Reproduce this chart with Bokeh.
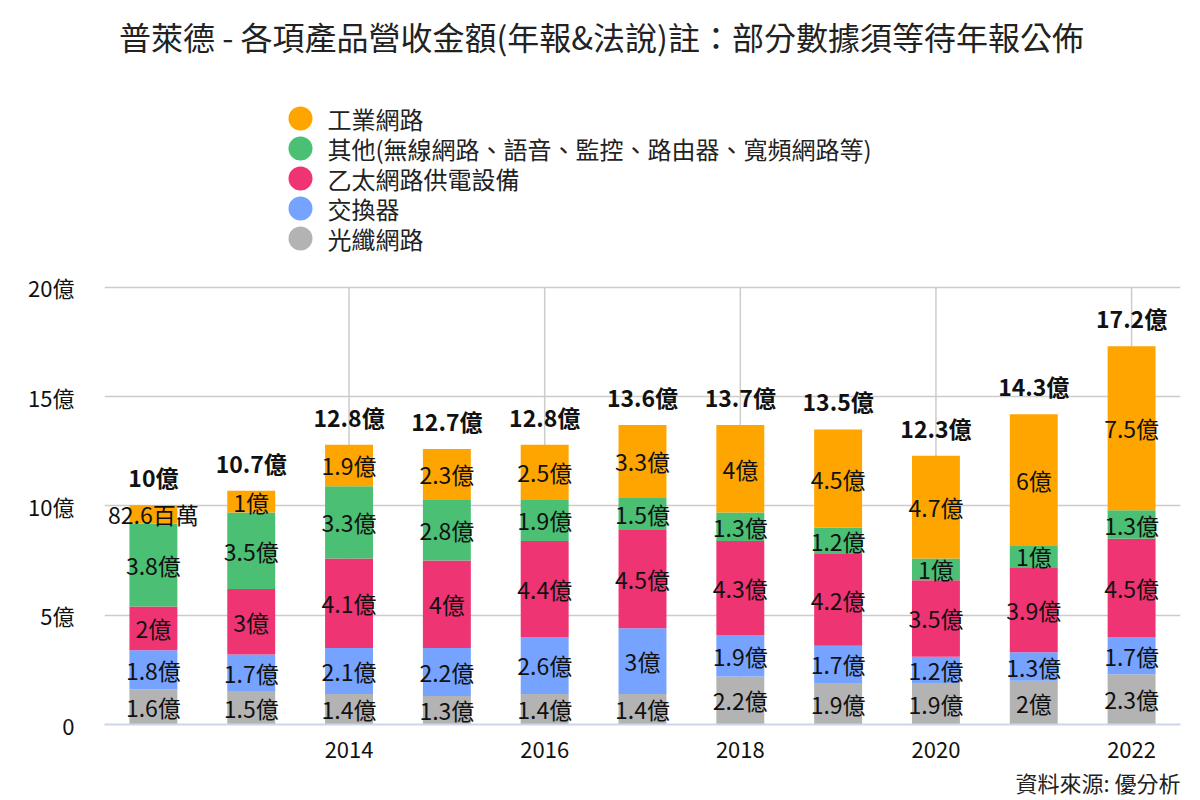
from bokeh.plotting import figure
from bokeh.layouts import column
from bokeh.models import ColumnDataSource, FixedTicker, Range1d, Title
from bokeh.core.properties import value
from bokeh.embed import file_html
from bokeh.resources import INLINE

# ---- data ----
years = [2012, 2013, 2014, 2015, 2016, 2017, 2018, 2019, 2020, 2021, 2022]
fiber = [1.6, 1.5, 1.4, 1.3, 1.4, 1.4, 2.2, 1.9, 1.9, 2.0, 2.3]          # 光纖網路
switch = [1.8, 1.7, 2.1, 2.2, 2.6, 3.0, 1.9, 1.7, 1.2, 1.3, 1.7]          # 交換器
poe = [2.0, 3.0, 4.1, 4.0, 4.4, 4.5, 4.3, 4.2, 3.5, 3.9, 4.5]             # 乙太網路供電設備
other = [3.8, 3.5, 3.3, 2.8, 1.9, 1.5, 1.3, 1.2, 1.0, 1.0, 1.3]           # 其他
industrial = [0.826, 1.0, 1.9, 2.3, 2.5, 3.3, 4.0, 4.5, 4.7, 6.0, 7.5]    # 工業網路
totals = [10.0, 10.7, 12.8, 12.7, 12.8, 13.6, 13.7, 13.5, 12.3, 14.3, 17.2]

series_keys = ["fiber", "switch", "poe", "other", "industrial"]
series_names = ["光纖網路", "交換器", "乙太網路供電設備",
                "其他(無線網路、語音、監控、路由器、寬頻網路等)", "工業網路"]
series_colors = ["#b3b3b3", "#75a3ff", "#ee3473", "#4bbf73", "#ffa500"]

x_ticks = [2014, 2016, 2018, 2020, 2022]
y_ticks = [0, 5, 10, 15, 20]

title_text = "普萊德 - 各項產品營收金額(年報&法說)註：部分數據須等待年報公佈"
source_text = "資料來源: 優分析"

FONT = "Noto Sans CJK TC"
TXT = "#111111"

def fmt(v):
    if v < 1:
        return f"{v * 100:g}百萬"
    return f"{v:g}億"

W = 1200
FRAME_L, FRAME_R = 104, 1180   # frame edges (column layout aligns both frames)
HEAD_H = 260

# ---- header (title + legend), in page-pixel coordinates ----
head = figure(width=W, height=HEAD_H, output_backend="svg", toolbar_location=None,
              x_range=Range1d(FRAME_L, FRAME_R), y_range=Range1d(HEAD_H, 0),
              x_axis_type=None, y_axis_type=None,
              min_border_left=FRAME_L, min_border_right=W - FRAME_R,
              min_border_top=0, min_border_bottom=0)
head.outline_line_color = None
head.grid.visible = False

head.text(x=[601], y=[35], text=[title_text], text_align="center",
          text_baseline="middle", text_font=value(FONT), text_font_size="32px",
          text_color="#222222")

legend_names = series_names[::-1]
legend_colors = series_colors[::-1]
row_y = [118 + 30 * i for i in range(len(legend_names))]
head.scatter(x=[300] * len(row_y), y=row_y, size=24, color=legend_colors,
             line_color=None)
head.text(x=[327] * len(row_y), y=row_y, text=legend_names, text_align="left",
          text_baseline="middle", text_font=value(FONT), text_font_size="24px",
          text_color="#222222")

# ---- main chart ----
series_vals = [fiber, switch, poe, other, industrial]
data = {"year": years}
for k, vals in zip(series_keys, series_vals):
    data[k] = vals
src = ColumnDataSource(data)

p = figure(width=W, height=800 - HEAD_H, output_backend="svg", toolbar_location=None,
           x_range=Range1d(2011.5, 2022.5), y_range=Range1d(0, 21),
           min_border_left=FRAME_L, min_border_right=W - FRAME_R, min_border_top=5,
           min_border_bottom=76)
p.outline_line_color = None

# vertical grid lines, bounded to the tick span of the value axis
p.segment(x0=x_ticks, y0=[y_ticks[0]] * len(x_ticks), x1=x_ticks,
          y1=[y_ticks[-1]] * len(x_ticks), line_color="#cccccc", line_width=1.5,
          level="underlay")

p.vbar_stack(series_keys, x="year", width=0.49, source=src,
             color=series_colors, line_color=None)

# segment labels
lx, ly, lt = [], [], []
cum = [0.0] * len(years)
for vals in series_vals:
    for i, v in enumerate(vals):
        lx.append(years[i])
        ly.append(cum[i] + v / 2)
        lt.append(fmt(v))
        cum[i] += v
p.text(x=lx, y=ly, text=lt, text_align="center", text_baseline="middle",
       text_font=value(FONT), text_font_size="23px", text_color=TXT)

# total labels
p.text(x=years, y=cum, text=[f"{t:g}億" for t in totals], text_align="center",
       text_baseline="middle", y_offset=-28, text_font=value(FONT),
       text_font_size="23px", text_font_style="bold", text_color=TXT)

# axes
p.xaxis.ticker = FixedTicker(ticks=x_ticks)
p.xaxis.axis_line_color = "#ccd6eb"
p.xaxis.axis_line_width = 2
p.xaxis.major_tick_line_color = None
p.xaxis.minor_tick_line_color = None
p.xaxis.major_tick_out = 0
p.xaxis.major_label_standoff = 17
p.xaxis.major_label_text_font = FONT
p.xaxis.major_label_text_font_size = "22px"
p.xaxis.major_label_text_color = TXT

p.yaxis.ticker = FixedTicker(ticks=y_ticks)
p.yaxis.axis_line_color = None
p.yaxis.major_tick_line_color = None
p.yaxis.minor_tick_line_color = None
p.yaxis.major_tick_out = 0
p.yaxis.major_label_standoff = 30
p.yaxis.major_label_text_font = FONT
p.yaxis.major_label_text_font_size = "22px"
p.yaxis.major_label_text_color = TXT
p.yaxis.major_label_overrides = {t: (f"{t}億" if t else "0") for t in y_ticks}

p.xgrid.visible = False
p.ygrid.ticker = FixedTicker(ticks=y_ticks)
p.ygrid.grid_line_color = "#cccccc"
p.ygrid.grid_line_width = 1.5

# source note
p.add_layout(Title(text=source_text, align="right", text_font=FONT,
                   text_font_size="22px", text_font_style="normal",
                   text_color="#222222", standoff=6, offset=0), "below")

layout = column(head, p, spacing=0)
open("out.html", "w").write(file_html(layout, INLINE))
